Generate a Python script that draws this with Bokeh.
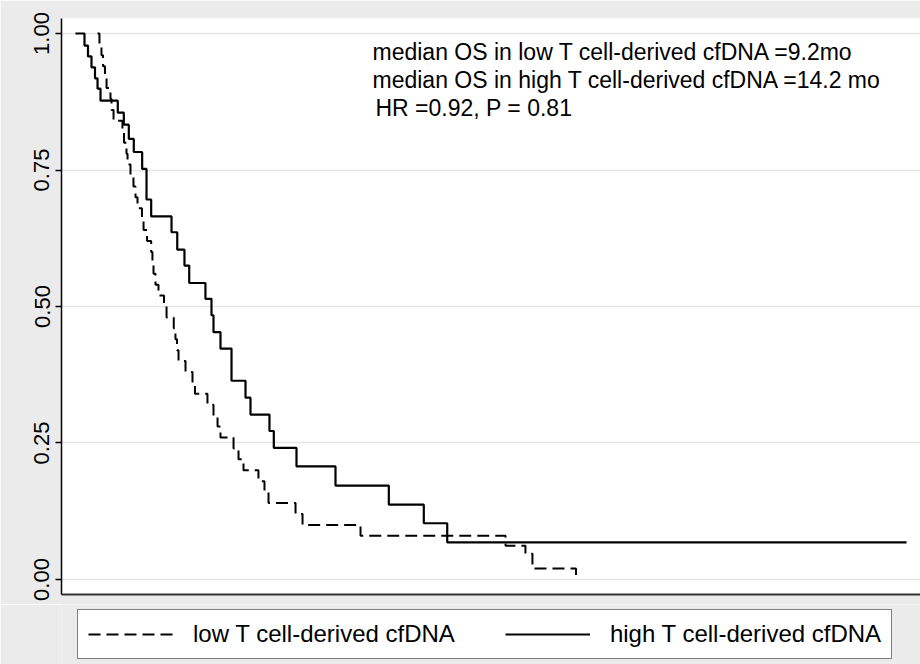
from bokeh.plotting import figure
from bokeh.models import Range1d, FixedTicker, Legend, LegendItem, Label
from bokeh.layouts import column
from bokeh.embed import file_html
from bokeh.resources import INLINE

# ---- data (months, survival probability) ----
low_time = [3.40, 3.58, 3.77, 3.92, 4.10, 4.25, 4.62, 4.72, 4.91, 5.75, 5.90,
            6.13, 6.23, 6.51, 6.79, 6.98, 7.17, 7.59, 7.74, 8.07, 8.46, 8.58,
            8.68, 8.87, 9.15, 9.67, 9.91, 10.59, 10.75, 10.90, 11.04, 11.70,
            12.36, 12.59, 13.77, 14.34, 14.72, 15.00, 16.23, 16.70, 17.17,
            18.58, 19.15, 19.53, 22.08, 22.74, 28.21, 41.89, 43.77, 44.43, 48.54]
low_surv = [1.00, 0.98, 0.96, 0.94, 0.92, 0.90, 0.88, 0.86, 0.84, 0.82, 0.80,
            0.78, 0.76, 0.74, 0.72, 0.70, 0.68, 0.66, 0.64, 0.62, 0.60, 0.58,
            0.56, 0.54, 0.52, 0.50, 0.48, 0.46, 0.44, 0.42, 0.40, 0.38,
            0.36, 0.34, 0.32, 0.30, 0.28, 0.26, 0.24, 0.22, 0.20,
            0.18, 0.16, 0.14, 0.12, 0.10, 0.08, 0.062, 0.047, 0.02, 0.0]

high_time = [1.32, 2.17, 2.50, 2.83, 3.16, 3.40, 3.68, 5.31, 5.88, 6.35, 6.82,
             7.61, 8.02, 8.46, 10.38, 10.92, 11.60, 12.05, 13.58, 14.15, 14.34,
             15.00, 16.04, 17.36, 17.83, 19.62, 20.03, 22.17, 25.85, 30.88,
             34.18, 36.39, 79.72]
high_surv = [1.00, 0.978, 0.958, 0.938, 0.918, 0.899, 0.877, 0.855, 0.833,
             0.807, 0.783, 0.752, 0.696, 0.665, 0.636, 0.604, 0.575, 0.543,
             0.514, 0.484, 0.453, 0.423, 0.364, 0.333, 0.302, 0.272, 0.241,
             0.207, 0.172, 0.137, 0.103, 0.068, 0.068]

y_ticks = [0.0, 0.25, 0.5, 0.75, 1.0]
y_tick_labels = ["0.00", "0.25", "0.50", "0.75", "1.00"]
series_labels = ["low T cell-derived cfDNA", "high T cell-derived cfDNA"]
note_lines = ["median OS in low T cell-derived cfDNA =9.2mo",
              "median OS in high T cell-derived cfDNA =14.2 mo",
              "HR =0.92, P = 0.81"]

FONT = "Liberation Sans"
BG = "#ebebeb"
LOW_STYLE = dict(line_color="black", line_width=2, line_dash="12 6")
HIGH_STYLE = dict(line_color="black", line_width=2.2)

p = figure(width=920, height=604, output_backend="svg", toolbar_location=None,
           x_range=Range1d(0, 81.04), y_range=Range1d(-0.0275, 1.0275),
           min_border_left=61, min_border_right=0, min_border_top=18,
           min_border_bottom=10)
p.border_fill_color = BG
p.background_fill_color = "white"
p.outline_line_color = None

# Kaplan-Meier steps
p.step(low_time, low_surv, mode="after", **LOW_STYLE)
p.step(high_time, high_surv, mode="after", **HIGH_STYLE)

# axes
p.yaxis.ticker = FixedTicker(ticks=y_ticks)
p.yaxis.major_label_overrides = {t: l for t, l in zip(y_ticks, y_tick_labels)}
p.yaxis.major_label_orientation = "vertical"
p.yaxis.major_label_text_font = FONT
p.yaxis.major_label_text_font_size = "22px"
p.yaxis.major_label_text_color = "black"
p.yaxis.major_tick_out = 6
p.yaxis.major_tick_in = 0
p.yaxis.minor_tick_line_color = None
p.yaxis.axis_line_color = "black"
p.yaxis.axis_line_width = 1.5
p.yaxis.major_tick_line_width = 1.5
p.yaxis.major_label_standoff = 6

p.xaxis.ticker = FixedTicker(ticks=[])
p.xaxis.major_label_text_font_size = "0px"
p.xaxis.major_tick_out = 0
p.xaxis.minor_tick_line_color = None
p.xaxis.axis_line_color = "#333333"
p.xaxis.axis_line_width = 2

p.xgrid.grid_line_color = None
p.ygrid.ticker = FixedTicker(ticks=y_ticks)
p.ygrid.grid_line_color = "#e6e6e6"
p.ygrid.grid_line_width = 1.5

# annotation text
note_y = [0.967, 0.914, 0.863]
note_x = [29.34, 29.34, 29.62]
for txt, xx, yy in zip(note_lines, note_x, note_y):
    p.add_layout(Label(x=xx, y=yy, text=txt, text_font=FONT,
                       text_font_size="23px", text_baseline="middle",
                       text_align="left", text_color="black"))

# ---- legend strip below the plot ----
q = figure(width=920, height=60, output_backend="svg", toolbar_location=None,
           x_range=Range1d(0, 1), y_range=Range1d(0, 1),
           x_axis_type=None, y_axis_type=None,
           min_border_left=61, min_border_right=0, min_border_top=0,
           min_border_bottom=0)
q.border_fill_color = BG
q.background_fill_color = BG
q.outline_line_color = None
q.grid.grid_line_color = None
nan = float("nan")
k_low = q.line([nan], [nan], **LOW_STYLE)
k_high = q.line([nan], [nan], **HIGH_STYLE)

legend = Legend(items=[LegendItem(label=series_labels[0], renderers=[k_low]),
                       LegendItem(label=series_labels[1], renderers=[k_high])],
                orientation="horizontal", location=(16, 5),
                glyph_width=85, glyph_height=24, label_standoff=20,
                spacing=50, padding=10, margin=0,
                label_text_font=FONT, label_text_font_size="24px",
                label_text_color="black", label_height=26,
                border_line_color="black", border_line_width=1.5,
                background_fill_color="white", background_fill_alpha=1.0)
q.add_layout(legend, "center")

open("out.html", "w").write(file_html(column(p, q, spacing=0), INLINE))
